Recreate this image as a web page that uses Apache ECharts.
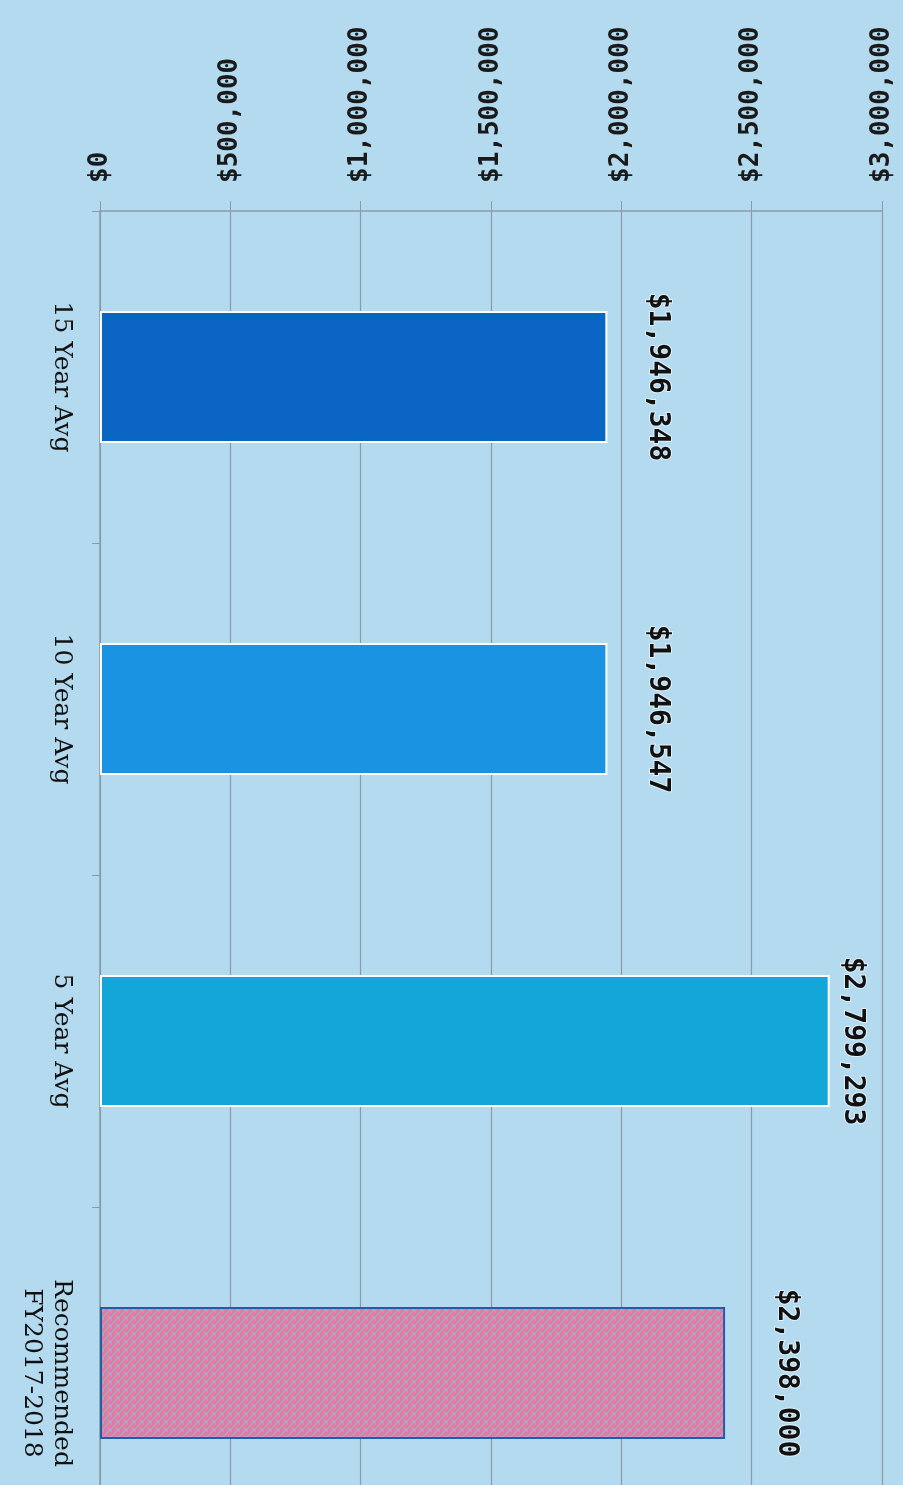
<!DOCTYPE html>
<html><head><meta charset="utf-8">
<script src="https://cdn.jsdelivr.net/npm/echarts@6/dist/echarts.min.js"></script>
<style>html,body{margin:0;padding:0;background:#b3daef}#c{width:903px;height:1485px}</style>
</head><body><div id="c"></div>
<script>
const categories = ['15 Year Avg', '10 Year Avg', '5 Year Avg', 'Recommended\nFY2017-2018'];
const values = [1946348, 1946547, 2799293, 2398000];
const valueLabels = ['$1,946,348', '$1,946,547', '$2,799,293', '$2,398,000'];
const tickLabels = ['$0', '$500,000', '$1,000,000', '$1,500,000', '$2,000,000', '$2,500,000', '$3,000,000'];

const barColors = ['#0a66c2', '#1a93e2', '#12a6d9'];
const labelGaps = [36, 36, 9, 47];

function makePattern() {
  const c = document.createElement('canvas');
  c.width = 8; c.height = 8;
  const g = c.getContext('2d');
  g.fillStyle = '#e27c9f';
  g.fillRect(0, 0, 8, 8);
  g.strokeStyle = '#a2acd8';
  g.lineWidth = 1.2;
  g.beginPath();
  g.moveTo(0, 4); g.lineTo(4, 0);
  g.moveTo(4, 8); g.lineTo(8, 4);
  g.moveTo(4, 4); g.lineTo(8, 8);
  g.stroke();
  return c;
}

const chart = echarts.init(document.getElementById('c'), null, {renderer: 'canvas'});
const data = values.map((v, i) => {
  const isRec = i === 3;
  return {
    value: v,
    itemStyle: isRec
      ? {color: {image: makePattern(), repeat: 'repeat'}, borderColor: '#1f5fa8', borderWidth: 2}
      : {color: barColors[i], borderColor: '#ffffff', borderWidth: 2},
    label: {distance: labelGaps[i], formatter: valueLabels[i]}
  };
});

chart.setOption({
  backgroundColor: '#b3daef',
  animation: false,
  grid: {left: 100, width: 782, top: 211, height: 1328, containLabel: false, outerBoundsMode: 'none'},
  xAxis: {
    type: 'value', position: 'top', min: 0, max: 3000000, interval: 500000,
    axisLine: {show: true, lineStyle: {color: '#8d9aa6', width: 1.5}},
    axisTick: {show: true, length: 10, lineStyle: {color: '#8d9aa6'}},
    splitLine: {show: true, lineStyle: {color: '#8d9aa6', width: 1.2}},
    axisLabel: {
      rotate: -90, margin: 28, color: '#1a1a1a',
      fontFamily: 'DejaVu Sans Mono', fontWeight: 'bold', fontSize: 26,
      formatter: (v, idx) => tickLabels[Math.round(v / 500000)]
    }
  },
  yAxis: {
    type: 'category', inverse: true, data: categories,
    axisLine: {show: true, lineStyle: {color: '#8d9aa6', width: 1.5}},
    axisTick: {show: true, length: 8, lineStyle: {color: '#8d9aa6'}},
    axisLabel: {
      rotate: -90, margin: 24, color: '#111', align: 'center', verticalAlign: 'top',
      fontFamily: 'DejaVu Serif', fontSize: 25, lineHeight: 30
    }
  },
  series: [{
    type: 'bar', data: data, barWidth: 132,
    label: {
      show: true, position: 'right', rotate: -90, align: 'center', verticalAlign: 'bottom',
      color: '#111', fontFamily: 'DejaVu Sans Mono', fontWeight: 'bold', fontSize: 28,
      textBorderColor: 'rgba(235,246,252,0.8)', textBorderWidth: 2
    }
  }]
});
</script></body></html>
